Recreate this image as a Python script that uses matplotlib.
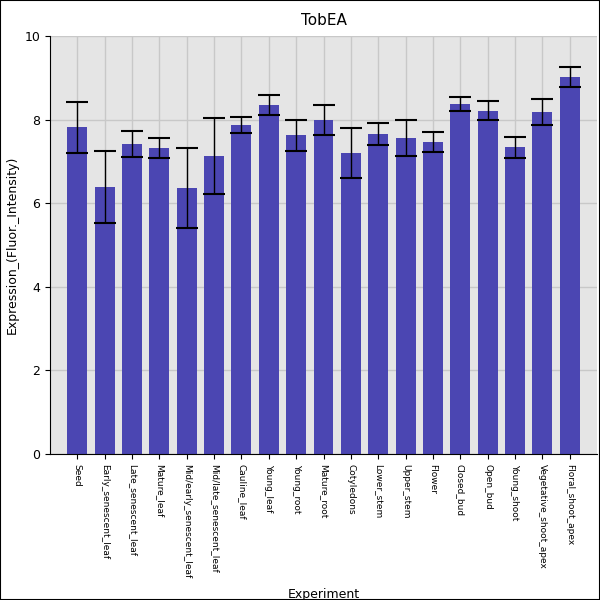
import numpy as np
import matplotlib.pyplot as plt

samples = ['Seed', 'Early_senescent_leaf', 'Late_senescent_leaf', 'Mature_leaf',
           'Mid/early_senescent_leaf', 'Mid/late_senescent_leaf', 'Cauline_leaf',
           'Young_leaf', 'Young_root', 'Mature_root', 'Cotyledons', 'Lower_stem',
           'Upper_stem', 'Flower', 'Closed_bud', 'Open_bud', 'Young_shoot',
           'Vegetative_shoot_apex', 'Floral_shoot_apex']
values = [7.82, 6.39, 7.42, 7.32, 6.36, 7.13, 7.87, 8.35, 7.63, 7.99,
          7.20, 7.66, 7.56, 7.46, 8.37, 8.21, 7.34, 8.18, 9.02]
errors = [0.61, 0.86, 0.31, 0.23, 0.96, 0.92, 0.20, 0.24, 0.37, 0.37,
          0.60, 0.26, 0.42, 0.24, 0.16, 0.23, 0.25, 0.32, 0.23]

fig = plt.figure(figsize=(6, 6), dpi=100)
ax = fig.add_axes([50/600, 146/600, 547/600, 418/600])
x = np.arange(len(samples))
ax.set_facecolor('#e5e5e5')
ax.grid(True, color='#c8c8c8', linewidth=1)
ax.set_axisbelow(True)
ax.bar(x, values, width=0.73, color='#4b46b2', zorder=2)
ax.errorbar(x, values, yerr=errors, fmt='none', ecolor='black', elinewidth=1,
            capsize=8, capthick=1.5, zorder=3)
ax.set_xlim(-1, 19)
ax.set_ylim(0, 10)
ax.set_yticks([0, 2, 4, 6, 8, 10])
ax.set_xticks(x)
ax.set_xticklabels(samples, rotation=-90, fontsize=6.5)
ax.tick_params(axis='y', labelsize=9)
for s in ['top', 'right']:
    ax.spines[s].set_visible(False)
ax.set_ylabel('Expression_(Fluor._Intensity)', fontsize=9)
ax.set_xlabel('Experiment', fontsize=9)
ax.xaxis.set_label_coords(0.5, -0.32)
ax.set_title('TobEA', fontsize=11, pad=8)
fig.patches.append(plt.Rectangle((0, 0), 1, 1, transform=fig.transFigure,
                                 fill=False, edgecolor='black', linewidth=1.5))
fig.savefig('out.png')
